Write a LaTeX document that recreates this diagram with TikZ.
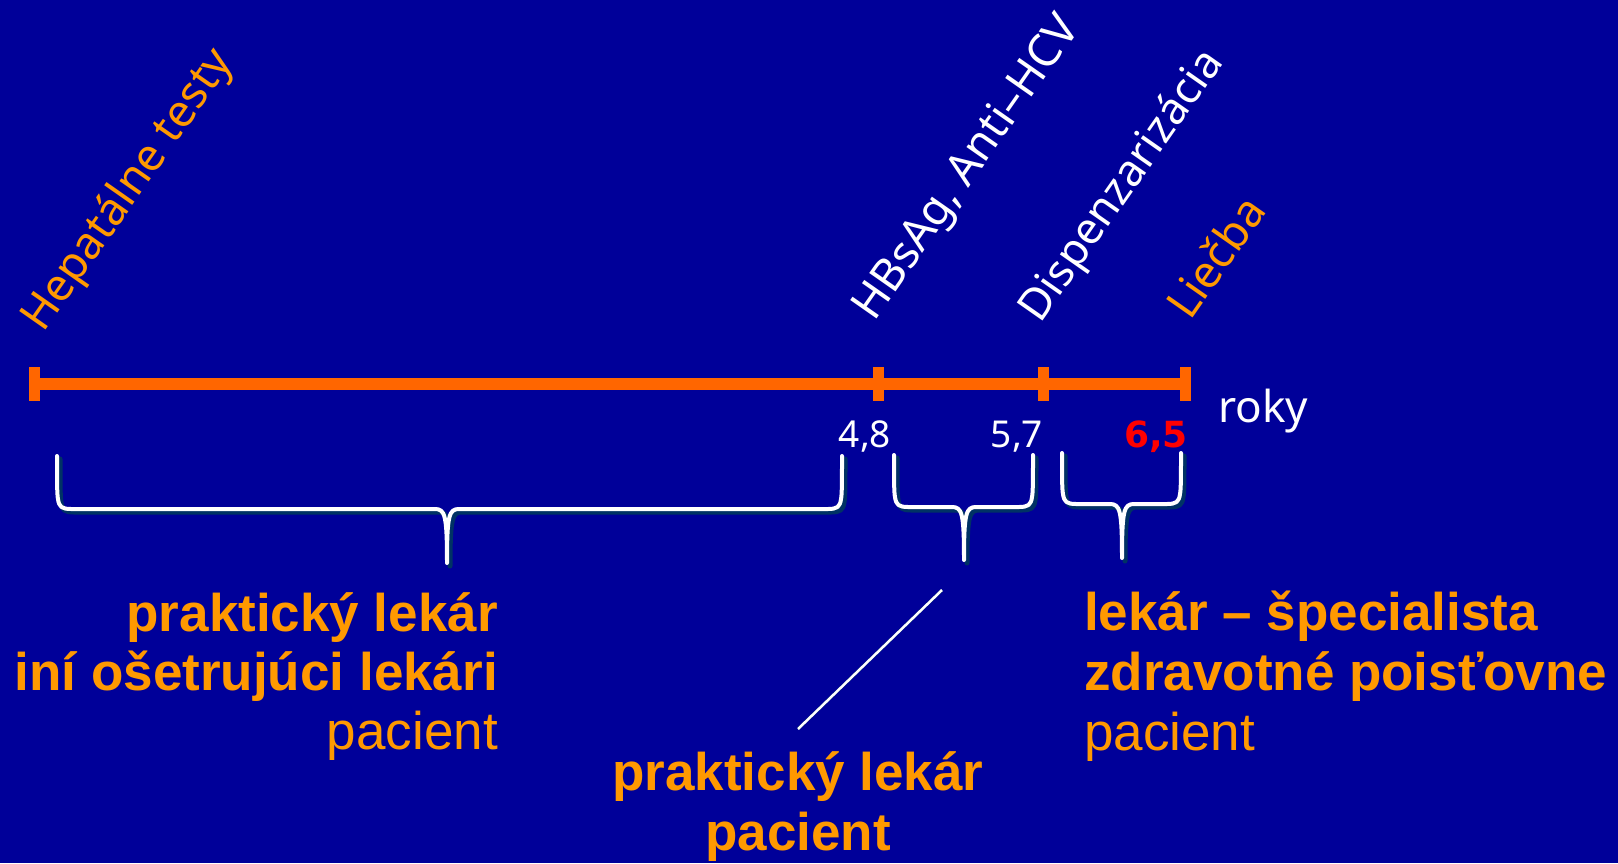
\documentclass[tikz,border=0pt]{standalone}
\usepackage{fontspec}
\setmainfont{Liberation Sans}
\newfontfamily\labelfont{Noto Sans}
\newfontfamily\heavyfont{DejaVu Sans}
\definecolor{bg}{RGB}{0,0,153}
\definecolor{axisorange}{RGB}{255,102,0}
\definecolor{textorange}{RGB}{255,153,0}
\definecolor{braceshade}{RGB}{0,50,100}

% curly brace: left x, tip x, right x, top y, bar y, tip y
\newcommand{\bracepath}[6]{(#1,#4) .. controls (#1,#5-30) and (#1,#5-14) .. (#1+1,#5-10) .. controls (#1+2,#5-2) and (#1+5,#5) .. (#1+14,#5)
  -- (#2-12,#5) .. controls (#2-2,#5) and (#2,#5+6) .. (#2,#6)
  .. controls (#2,#5+6) and (#2+2,#5) .. (#2+12,#5)
  -- (#3-14,#5) .. controls (#3-5,#5) and (#3-2,#5-2) .. (#3-1,#5-10) .. controls (#3,#5-14) and (#3,#5-30) .. (#3,#4)}

\begin{document}
\begin{tikzpicture}[x=1pt,y=-1pt,
  axis/.style={draw=axisorange,line width=12},
  tickmark/.style={draw=axisorange,line width=11},
  slanted/.style={rotate=55,anchor=base west,inner sep=0,font=\labelfont\fontsize{45}{50}\selectfont},
  num/.style={anchor=base,inner sep=0,text=white,font=\labelfont\fontsize{37}{40}\selectfont},
  bracewhite/.style={draw=white,line width=4,line cap=round,line join=round},
  braceshadow/.style={draw=braceshade,line width=5,line cap=round,line join=round,shift={(3,3)}},
  boldtxt/.style={inner sep=0,text=textorange,font=\bfseries\fontsize{53}{58}\selectfont},
  plaintxt/.style={inner sep=0,text=textorange,font=\fontsize{53}{58}\selectfont}]
\useasboundingbox[fill=bg] (0,0) rectangle (1618,863);

% time axis with its marks
\coordinate (t0) at (34,384);
\coordinate (t1) at (878,384);
\coordinate (t2) at (1043,384);
\coordinate (t3) at (1185,384);
\draw[axis] (t0) -- (t3);
\foreach \t in {t0,t1,t2,t3}
  \draw[tickmark] ([yshift=17pt]\t) -- ([yshift=-17pt]\t);

% events above the axis
\node[slanted,text=textorange] (hep) at (43,334) {Hepatálne testy};
\node[slanted,text=white] (hbs) at (874,323) {HBsAg, Anti–HCV};
\node[slanted,text=white,font=\labelfont\fontsize{44}{50}\selectfont] (disp) at (1040,325) {Dispenzarizácia};
\node[slanted,text=textorange] (liec) at (1190,322) {Liečba};

% years
\node[num] (y48) at (865,447) {4,8};
\node[num] (y57) at (1017,447) {5,7};
\node[num,text=red,font=\heavyfont\bfseries\fontsize{36}{40}\selectfont] (y65) at (1156,447) {6,5};
\node[anchor=base west,inner sep=0,text=white,font=\labelfont\fontsize{44}{48}\selectfont] (roky) at (1218,422) {roky};

% braces under the axis
\draw[braceshadow] \bracepath{57}{447}{842}{456}{509}{563};
\draw[bracewhite] \bracepath{57}{447}{842}{456}{509}{563};
\draw[braceshadow] \bracepath{894}{964}{1033}{455}{507}{560};
\draw[bracewhite] \bracepath{894}{964}{1033}{455}{507}{560};
\draw[braceshadow] \bracepath{1062}{1122}{1181}{453}{504}{558};
\draw[bracewhite] \bracepath{1062}{1122}{1181}{453}{504}{558};

% who is involved in each period
\node[boldtxt,anchor=base east] (l1) at (498,631) {praktický lekár};
\node[boldtxt,anchor=base east] (l2) at (498,690) {iní ošetrujúci lekári};
\node[plaintxt,anchor=base east] (l3) at (498,749) {pacient};

\node[boldtxt,anchor=base west] (r1) at (1084,630) {lekár – špecialista};
\node[boldtxt,anchor=base west] (r2) at (1084,690) {zdravotné poisťovne};
\node[plaintxt,anchor=base west] (r3) at (1084,750) {pacient};

\node[boldtxt,anchor=base] (m1) at (798,790) {praktický lekár};
\node[boldtxt,anchor=base] (m2) at (798,850) {pacient};

% pointer from the middle brace to its caption
\coordinate (pa) at (942,590);
\coordinate (pb) at (798,729);
\draw[draw=braceshade,line width=3,shift={(3,4)}] (pa) -- (pb);
\draw[draw=white,line width=2.5] (pa) -- (pb);
\end{tikzpicture}
\end{document}
